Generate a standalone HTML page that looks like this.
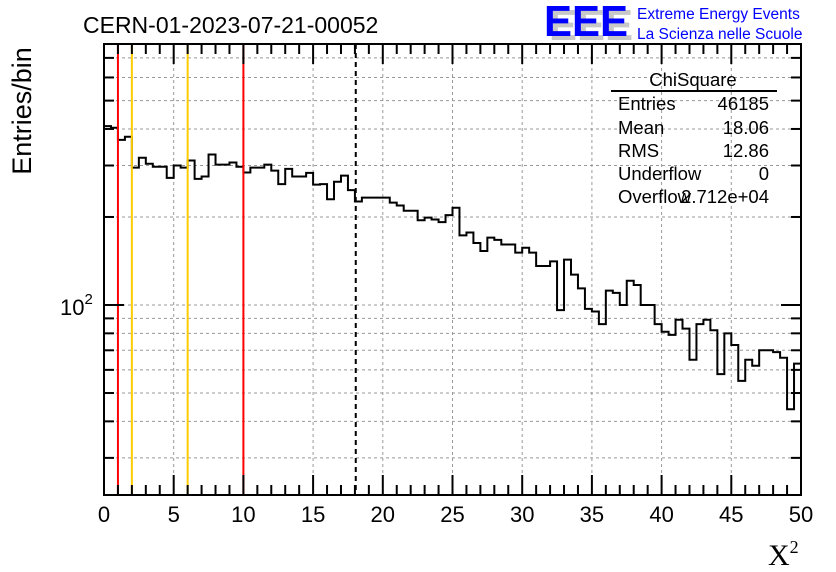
<!DOCTYPE html>
<html><head><meta charset="utf-8"><style>
html,body{margin:0;padding:0;background:#fff;}
svg{display:block;font-family:"Liberation Sans",sans-serif;}
</style></head><body>
<svg id="chart" width="836" height="572" viewBox="0 0 836 572" xmlns="http://www.w3.org/2000/svg">
<rect width="836" height="572" fill="#fff"/>
<text x="83" y="33" font-size="23">CERN-01-2023-07-21-00052</text>
<g>
<text x="549" y="40" font-size="44" font-weight="bold" fill="#c8c8c8" textLength="84" lengthAdjust="spacingAndGlyphs">EEE</text>
<text x="544" y="36" font-size="44" font-weight="bold" fill="#0000ff" textLength="84" lengthAdjust="spacingAndGlyphs">EEE</text>
<text x="637" y="19" font-size="15.5" fill="#0000ff">Extreme Energy Events</text>
<text x="637" y="39" font-size="15.5" fill="#0000ff">La Scienza nelle Scuole</text>
</g>
<g id="grid"></g>
<g id="marks"></g>
<g id="axes"></g>
<g font-size="18.5">
<text x="693" y="86" text-anchor="middle">ChiSquare</text>
<line x1="611" y1="91" x2="777" y2="91" stroke="#000" stroke-width="2"/>
<text x="618" y="110">Entries</text><text x="769" y="110" text-anchor="end">46185</text>
<text x="618" y="134">Mean</text><text x="769" y="134" text-anchor="end">18.06</text>
<text x="618" y="157">RMS</text><text x="769" y="157" text-anchor="end">12.86</text>
<text x="618" y="180">Underflow</text><text x="769" y="180" text-anchor="end">0</text>
<text x="618" y="203">Overflow</text><text x="769" y="203" text-anchor="end">2.712e+04</text>
</g>
<text transform="translate(31,111) rotate(-90)" font-size="27" text-anchor="middle">Entries/bin</text>
<text x="768" y="565" font-size="30" font-family="Liberation Serif,serif">X<tspan font-size="18" dy="-12">2</tspan></text>
</svg>
<script>
const counts = [409,404,367,376,295,319,304,297,297,272,300,295,312,270,275,327,302,302,307,297,284,295,295,302,288,259,292,275,275,283,258,259,230,264,277,247,226,233,233,233,233,224,219,210,210,195,199,196,192,203,215,173,177,163,153,170,167,161,161,151,157,151,136,136,141,96,143,127,114,97,95,86,112,110,100,121,117,100,100,86,81,79,89,83,65,86,89,82,58,80,73,55,65,62,70,70,69,66,44,63];
const xTicks = [0,5,10,15,20,25,30,35,40,45,50];
const yGrid = [30,40,50,60,70,80,90,200,300,400,500,600,700];
const redLines = [1,10];
const orangeLines = [2,6];
const meanLine = [18.06];
const binWidth = 0.5, xMin = 0, xMax = 50;
const L=104,R=801,T=44,B=495, yLogMin=1.3502, yLogMax=2.8926;
const NS='http://www.w3.org/2000/svg';
const sx = v => L + (v - xMin) / (xMax - xMin) * (R - L);
const sy = v => B - (Math.log10(v) - yLogMin) / (yLogMax - yLogMin) * (B - T);
function mk(parent, tag, attrs){const e=document.createElementNS(NS,tag);for(const k in attrs)e.setAttribute(k,attrs[k]);parent.appendChild(e);return e;}
const grid=document.getElementById('grid'), marks=document.getElementById('marks'), axes=document.getElementById('axes');
xTicks.forEach(t=>{if(t===xMin||t===xMax)return;const l=mk(grid,'line',{x1:sx(t),x2:sx(t),y1:T,y2:B,stroke:'#999','stroke-dasharray':'3,3'});

});
yGrid.concat([100]).forEach(v=>{const l=mk(grid,'line',{x1:L,x2:R,y1:sy(v),y2:sy(v),stroke:'#999','stroke-dasharray':'3,3'});

});
let d='M'+sx(0)+','+sy(counts[0]);
counts.forEach((c,i)=>{const y=sy(c);d+=' L'+sx(i*binWidth)+','+y+' L'+sx((i+1)*binWidth)+','+y;});
const h=mk(marks,'path',{d:d,fill:'none',stroke:'#000','stroke-width':2});


redLines.forEach(v=>{const l=mk(marks,'line',{x1:sx(v),x2:sx(v),y1:T,y2:B,stroke:'#ff0000','stroke-width':2});

});
orangeLines.forEach(v=>{const l=mk(marks,'line',{x1:sx(v),x2:sx(v),y1:T,y2:B,stroke:'#ffcc00','stroke-width':2});

});
meanLine.forEach(v=>{const l=mk(marks,'line',{x1:sx(v),x2:sx(v),y1:T,y2:B,stroke:'#000','stroke-width':2,'stroke-dasharray':'5,4'});

});
const f=mk(axes,'rect',{x:L,y:T,width:R-L,height:B-T,fill:'none',stroke:'#000','stroke-width':2});


for(let v=xMin; v<=xMax; v+=1){const major=v%5===0;const len=major?20:10;
mk(axes,'line',{x1:sx(v),x2:sx(v),y1:B,y2:B-len,stroke:'#000','stroke-width':2});
mk(axes,'line',{x1:sx(v),x2:sx(v),y1:T,y2:T+len,stroke:'#000','stroke-width':2});}
xTicks.forEach(t=>{const tx=mk(axes,'text',{x:sx(t),y:522,'font-size':22,'text-anchor':'middle'});tx.textContent=t;

});
yGrid.concat([100]).forEach(v=>{const len=v===100?20:10;
mk(axes,'line',{x1:L,x2:L+len,y1:sy(v),y2:sy(v),stroke:'#000','stroke-width':2});
mk(axes,'line',{x1:R,x2:R-len,y1:sy(v),y2:sy(v),stroke:'#000','stroke-width':2});});
const yl=mk(axes,'text',{x:60,y:sy(100)+10,'font-size':22});yl.innerHTML='10<tspan font-size="15" dy="-11">2</tspan>';


</script>
</body></html>
